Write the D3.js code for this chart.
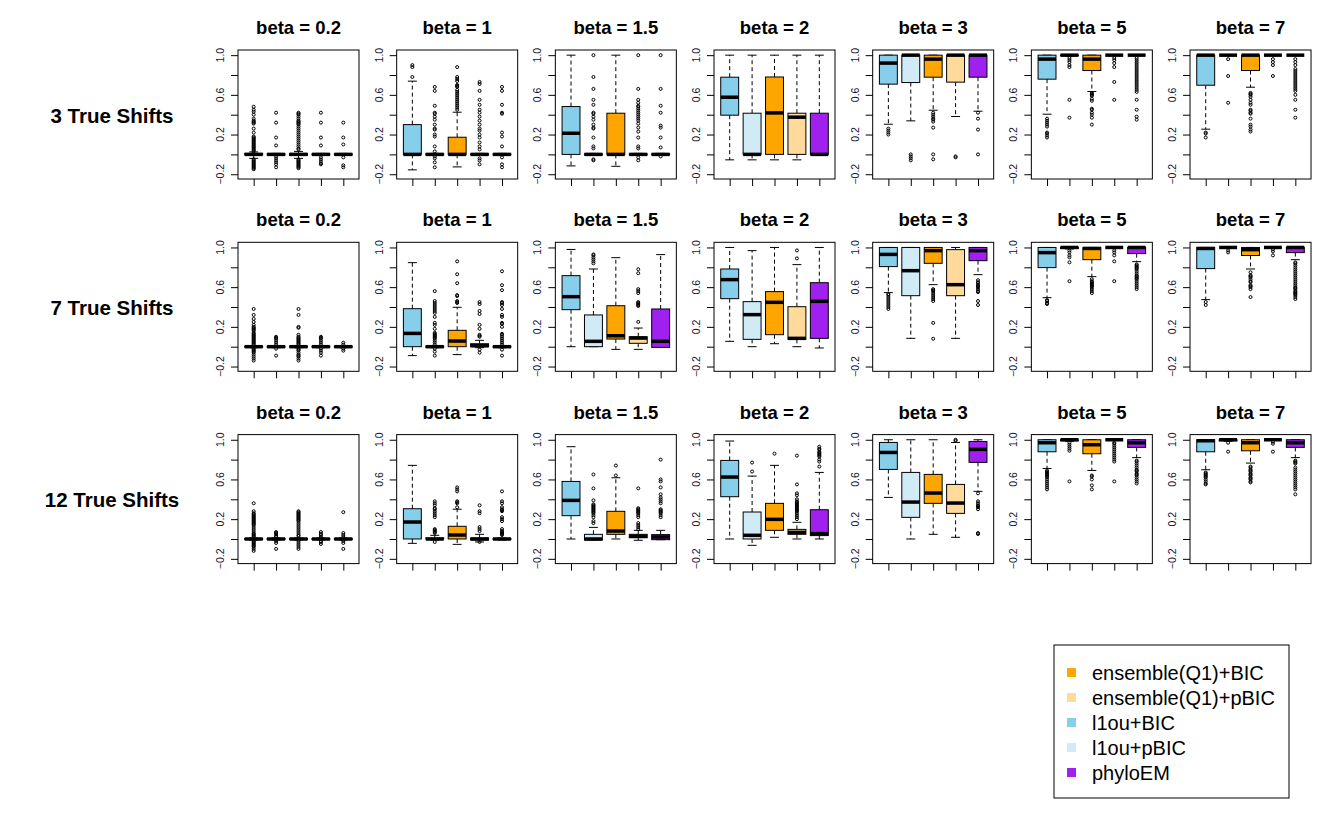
<!DOCTYPE html>
<html>
<head>
<meta charset="utf-8">
<script src="https://cdn.jsdelivr.net/npm/d3@7"></script>
<style>
  body { margin: 0; background: #fff; }
  text { font-family: "Liberation Sans", Arial, sans-serif; }
</style>
</head>
<body>
<svg id="chart"></svg>
<script>
// methods in the order the boxes appear in each panel
const methods = ['l1ou+BIC', 'l1ou+pBIC', 'ensemble(Q1)+BIC', 'ensemble(Q1)+pBIC', 'phyloEM'];
const colors = ['#87CEEB', '#D0EAF6', '#FFA500', '#FFDA9B', '#A020F0'];
const legendOrder = [2, 3, 0, 1, 4];
const betas = ['0.2', '1', '1.5', '2', '3', '5', '7'];
const shifts = ['3 True Shifts', '7 True Shifts', '12 True Shifts'];
const yTicks = [-0.2, 0, 0.2, 0.4, 0.6, 0.8, 1.0];
const yLabels = [-0.2, 0.2, 0.6, 1.0];

// box stats: [lower whisker, q1, median, q3, upper whisker]
const tiny = [-0.01, -0.005, 0, 0.005, 0.01];
const top1 = [0.995, 1, 1, 1, 1];

const stats3 = [
  [[-0.04, -0.005, 0, 0.01, 0.025], tiny, [-0.04, -0.01, 0, 0.01, 0.03], tiny, tiny],
  [[-0.156, 0, 0, 0.3, 0.738], tiny, [-0.126, 0, 0, 0.173, 0.425], tiny, tiny],
  [[-0.116, 0, 0.213, 0.482, 1.0], tiny, [-0.12, 0, 0, 0.415, 1.0], tiny, tiny],
  [[-0.055, 0.395, 0.576, 0.778, 1.0], [-0.055, 0, 0, 0.415, 1.0], [-0.055, 0, 0.418, 0.78, 1.0], [-0.055, 0, 0.375, 0.415, 1.0], [0, 0, 0, 0.415, 1.0]],
  [[0.304, 0.708, 0.92, 1, 1], [0.338, 0.724, 1, 1, 1], [0.445, 0.778, 0.96, 1, 1], [0.382, 0.728, 1, 1, 1], [0.435, 0.778, 1, 1, 1]],
  [[0.405, 0.758, 0.96, 1, 1], [0.99, 0.995, 1, 1, 1], [0.634, 0.845, 0.96, 1, 1], top1, top1],
  [[0.254, 0.697, 1, 1, 1], top1, [0.677, 0.845, 1, 1, 1], top1, top1]
];
const stats7 = [
  [tiny, tiny, tiny, tiny, tiny],
  [[-0.09, 0, 0.134, 0.383, 0.847], tiny, [-0.08, 0, 0.057, 0.165, 0.397], [-0.01, 0, 0.01, 0.03, 0.064], tiny],
  [[0, 0.373, 0.504, 0.716, 0.98], [0, 0, 0.054, 0.32, 0.783], [-0.027, 0.077, 0.11, 0.413, 0.897], [-0.027, 0.034, 0.087, 0.1, 0.188], [-0.007, -0.007, 0.054, 0.38, 0.928]],
  [[0.054, 0.484, 0.676, 0.783, 1.0], [0, 0.074, 0.323, 0.454, 0.968], [0.03, 0.121, 0.447, 0.555, 1.0], [0, 0.074, 0.084, 0.403, 0.827], [-0.013, 0.084, 0.457, 0.645, 1.0]],
  [[0.545, 0.807, 0.93, 1, 1], [0.084, 0.514, 0.766, 1, 1], [0.625, 0.84, 0.968, 1, 1], [0.084, 0.514, 0.625, 0.978, 1], [0.726, 0.867, 0.968, 1, 1]],
  [[0.494, 0.797, 0.948, 1, 1], [0.985, 0.99, 1, 1, 1], [0.706, 0.877, 0.99, 1, 1], top1, [0.857, 0.938, 1, 1, 1]],
  [[0.474, 0.787, 0.99, 1, 1], top1, [0.783, 0.919, 0.978, 1, 1], top1, [0.877, 0.948, 1, 1, 1]]
];
const stats12 = [
  [tiny, tiny, tiny, tiny, tiny],
  [[-0.044, 0, 0.171, 0.305, 0.742], [-0.01, 0, 0, 0.01, 0.037], [-0.054, 0, 0.04, 0.128, 0.3], [-0.03, -0.01, 0, 0.01, 0.047], tiny],
  [[0, 0.235, 0.389, 0.58, 0.93], [-0.01, -0.01, 0, 0.047, 0.117], [0, 0.047, 0.08, 0.279, 0.617], [-0.013, 0.013, 0.027, 0.047, 0.087], [-0.007, -0.007, 0.02, 0.044, 0.087]],
  [[0, 0.426, 0.624, 0.792, 0.987], [-0.064, 0, 0.037, 0.272, 0.634], [0.017, 0.087, 0.198, 0.359, 0.742], [0, 0.047, 0.067, 0.097, 0.168], [0, 0.034, 0.054, 0.295, 0.671]],
  [[0.419, 0.701, 0.872, 0.973, 1.0], [0, 0.218, 0.372, 0.671, 1.0], [0.047, 0.359, 0.463, 0.651, 1.0], [0.017, 0.258, 0.362, 0.55, 0.973], [0.48, 0.772, 0.903, 0.983, 1.0]],
  [[0.711, 0.879, 0.97, 1, 1], [0.985, 0.99, 1, 1, 1], [0.691, 0.859, 0.95, 1, 1], top1, [0.82, 0.923, 0.97, 1, 1]],
  [[0.698, 0.879, 0.99, 1, 1], [0.985, 0.99, 1, 1, 1], [0.765, 0.889, 0.97, 1, 1], top1, [0.82, 0.923, 0.97, 1, 1]]
];

// outliers per panel, per box
const out3 = [
  [[0.48, 0.45, 0.43, 0.4, 0.36, 0.34, 0.33, 0.32, 0.31, 0.26, 0.22, 0.18, 0.17, 0.16, 0.15, 0.14, 0.13, 0.12, 0.11, 0.1, 0.09, 0.08, 0.07, 0.06, 0.05, 0.04, 0.03, -0.05, -0.06, -0.07, -0.08, -0.09, -0.1, -0.11, -0.12, -0.13, -0.14, -0.15],
   [0.42, 0.32, 0.17, 0.09, -0.02, -0.04, -0.06, -0.08, -0.1, -0.13],
   [0.42, 0.41, 0.4, 0.38, 0.36, 0.34, 0.33, 0.32, 0.31, 0.3, 0.28, 0.26, 0.24, 0.22, 0.2, 0.18, 0.16, 0.14, 0.12, 0.1, 0.08, 0.06, 0.05, -0.05, -0.06, -0.07, -0.08, -0.09, -0.1, -0.11, -0.12, -0.13, -0.14],
   [0.42, 0.32, 0.17, 0.09, -0.03, -0.05, -0.07, -0.09, -0.1],
   [0.32, 0.17, 0.1, -0.03, -0.11, -0.13]],
  [[0.9, 0.88, 0.78],
   [0.68, 0.64, 0.49, 0.42, 0.41, 0.38, 0.35, 0.3, 0.26, 0.25, 0.2, 0.18, 0.08, 0.03, -0.02, -0.04, -0.08, -0.13],
   [0.88, 0.78, 0.76, 0.74, 0.7, 0.69, 0.68, 0.65, 0.63, 0.61, 0.59, 0.57, 0.55, 0.53, 0.51, 0.49, 0.47, 0.45],
   [0.73, 0.71, 0.64, 0.55, 0.5, 0.45, 0.42, 0.38, 0.34, 0.3, 0.26, 0.24, 0.2, 0.17, 0.12, 0.08, 0.05, -0.04, -0.06, -0.1],
   [0.68, 0.64, 0.5, 0.42, 0.41, 0.22, 0.18, 0.08, -0.03, -0.1, -0.13]],
  [[],
   [1.0, 0.78, 0.66, 0.55, 0.5, 0.42, 0.41, 0.38, 0.35, 0.3, 0.27, 0.26, 0.17, 0.08, 0.06, -0.05, -0.06],
   [],
   [1.0, 0.66, 0.55, 0.52, 0.49, 0.48, 0.46, 0.44, 0.42, 0.4, 0.38, 0.36, 0.34, 0.31, 0.27, 0.23, 0.17, 0.08, 0.06, -0.03, -0.06],
   [1.0, 0.66, 0.49, 0.42, 0.29, 0.27, 0.17, 0.07, -0.02]],
  [[], [], [], [], []],
  [[0.26, 0.24, 0.22, 0.2],
   [0, -0.02, -0.04, -0.06],
   [0.42, 0.4, 0.38, 0.36, 0.35, 0.33, 0.27, 0, -0.05],
   [-0.02, -0.03],
   [0.42, 0.36, 0.25, 0]],
  [[0.36, 0.34, 0.32, 0.3, 0.28, 0.22, 0.21, 0.19, 0.17],
   [0.97, 0.95, 0.93, 0.9, 0.88, 0.55, 0.37],
   [0.62, 0.61, 0.6, 0.59, 0.56, 0.54, 0.46, 0.45, 0.42, 0.4, 0.37, 0.3],
   [0.97, 0.95, 0.92, 0.88, 0.73, 0.55],
   [0.97, 0.95, 0.93, 0.91, 0.89, 0.87, 0.85, 0.83, 0.81, 0.79, 0.77, 0.75, 0.73, 0.71, 0.69, 0.67, 0.65, 0.63, 0.55, 0.45, 0.38, 0.35]],
  [[0.22, 0.21, 0.17],
   [0.96, 0.79, 0.52],
   [0.62, 0.61, 0.6, 0.58, 0.55, 0.52, 0.5, 0.45, 0.44, 0.42, 0.41, 0.36, 0.3, 0.28, 0.25, 0.23],
   [0.96, 0.93, 0.9, 0.79],
   [0.96, 0.93, 0.9, 0.86, 0.84, 0.82, 0.8, 0.78, 0.76, 0.74, 0.72, 0.7, 0.68, 0.66, 0.64, 0.6, 0.55, 0.45, 0.37]]
];
const out7 = [
  [[0.38, 0.32, 0.28, 0.25, 0.22, 0.2, 0.19, 0.18, 0.17, 0.16, 0.14, 0.13, 0.12, 0.11, 0.1, 0.09, 0.08, 0.07, 0.06, 0.05, 0.04, 0.03, 0.02, -0.02, -0.03, -0.04, -0.05, -0.06, -0.08, -0.1, -0.12, -0.14],
   [0.1, 0.09, 0.08, 0.06, 0.04, 0.02, -0.02, -0.09],
   [0.38, 0.32, 0.2, 0.19, 0.12, 0.1, 0.09, 0.08, 0.07, 0.06, 0.05, 0.04, 0.03, 0.02, -0.02, -0.03, -0.04, -0.06, -0.08, -0.09, -0.1, -0.12, -0.14],
   [0.1, 0.09, 0.08, 0.06, 0.04, 0.02, -0.02, -0.04, -0.06, -0.09],
   [0.04, 0.02, -0.02, -0.04]],
  [[],
   [0.56, 0.46, 0.44, 0.42, 0.4, 0.38, 0.36, 0.34, 0.3, 0.24, 0.22, 0.18, 0.14, 0.13, 0.12, 0.11, 0.1, 0.09, 0.08, 0.06, 0.04, 0.02, -0.02, -0.05, -0.09],
   [0.86, 0.73, 0.64, 0.52, 0.51, 0.46, 0.45, 0.44],
   [0.45, 0.43, 0.36, 0.33, 0.22, 0.18, 0.12, 0.11, 0.1, -0.03, -0.06],
   [0.76, 0.62, 0.57, 0.45, 0.44, 0.42, 0.38, 0.32, 0.3, 0.24, 0.23, 0.2, 0.13, 0.12, 0.1, 0.08, 0.06, 0.04, 0.02, -0.03, -0.09]],
  [[],
   [0.93, 0.92, 0.9, 0.88, 0.86, 0.84],
   [],
   [0.78, 0.74, 0.58, 0.56, 0.54, 0.45, 0.44, 0.43, 0.42, 0.41, 0.25],
   []],
  [[], [], [], [0.97, 0.89], []],
  [[0.53, 0.52, 0.5, 0.48, 0.46, 0.44, 0.42, 0.4, 0.38],
   [],
   [0.58, 0.57, 0.56, 0.54, 0.52, 0.5, 0.48, 0.46, 0.24, 0.08],
   [],
   [0.67, 0.65, 0.64, 0.62, 0.61, 0.6, 0.58, 0.56, 0.55, 0.46, 0.42]],
  [[0.47, 0.46, 0.44, 0.43],
   [0.97, 0.95, 0.92, 0.9, 0.85, 0.66],
   [0.68, 0.66, 0.65, 0.64, 0.63, 0.62, 0.61, 0.6, 0.58, 0.56, 0.54],
   [0.97, 0.95, 0.92, 0.86, 0.66],
   [0.83, 0.82, 0.81, 0.8, 0.79, 0.78, 0.76, 0.74, 0.72, 0.71, 0.7, 0.69, 0.68, 0.66, 0.64, 0.62, 0.6, 0.58]],
  [[0.45, 0.42],
   [0.97, 0.95],
   [0.75, 0.72, 0.71, 0.7, 0.68, 0.66, 0.65, 0.62, 0.61, 0.6, 0.58, 0.5],
   [0.98, 0.96, 0.92],
   [0.85, 0.84, 0.82, 0.8, 0.78, 0.76, 0.74, 0.72, 0.7, 0.68, 0.66, 0.64, 0.62, 0.6, 0.59, 0.58, 0.56, 0.55, 0.54, 0.53, 0.52, 0.5, 0.48]]
];
const out12 = [
  [[0.36, 0.28, 0.26, 0.25, 0.24, 0.23, 0.22, 0.21, 0.2, 0.19, 0.18, 0.17, 0.16, 0.15, 0.14, 0.12, 0.1, 0.08, 0.06, 0.05, 0.04, 0.03, 0.02, -0.02, -0.03, -0.04, -0.05, -0.06, -0.07, -0.08, -0.1, -0.12],
   [0.07, 0.06, 0.05, 0.03, 0.02, -0.02, -0.04, -0.1],
   [0.28, 0.27, 0.26, 0.25, 0.24, 0.23, 0.22, 0.21, 0.2, 0.19, 0.18, 0.16, 0.14, 0.12, 0.1, 0.08, 0.06, 0.04, 0.03, -0.02, -0.04, -0.06, -0.08, -0.1],
   [0.07, 0.05, 0.04, 0.02, -0.02, -0.03, -0.05],
   [0.27, 0.06, 0.04, 0.02, -0.02, -0.04, -0.1]],
  [[],
   [0.38, 0.36, 0.34, 0.31, 0.3, 0.28, 0.26, 0.24, 0.22, 0.1, 0.09, 0.08, 0.07, 0.06, -0.03],
   [0.52, 0.5, 0.48, 0.38, 0.37, 0.36, 0.32],
   [0.34, 0.28, 0.26, 0.12, 0.1, 0.08, -0.03],
   [0.48, 0.38, 0.36, 0.32, 0.3, 0.29, 0.28, 0.22, 0.2, 0.18, 0.1, 0.08, 0.07, 0.06, 0.05, 0.04]],
  [[],
   [0.65, 0.51, 0.39, 0.35, 0.34, 0.33, 0.32, 0.31, 0.3, 0.29, 0.28, 0.27, 0.26, 0.24, 0.22, 0.18, 0.16],
   [0.74, 0.64],
   [0.51, 0.31, 0.3, 0.29, 0.28, 0.27, 0.26, 0.24, 0.22, 0.16, 0.14, 0.12, 0.1],
   [0.8, 0.6, 0.58, 0.52, 0.45, 0.42, 0.4, 0.38, 0.36, 0.3, 0.29, 0.28, 0.27, 0.26, 0.24, 0.22]],
  [[],
   [0.77, 0.68],
   [0.86],
   [0.84, 0.55, 0.46, 0.44, 0.4, 0.38, 0.37, 0.36, 0.35, 0.34, 0.33, 0.32, 0.31, 0.3, 0.29, 0.28, 0.26, 0.24, 0.22, 0.2],
   [0.93, 0.91, 0.9, 0.88, 0.87, 0.86, 0.85, 0.84, 0.83, 0.8, 0.78, 0.73]],
  [[], [], [], [1.0, 0.99],
   [0.46, 0.38, 0.36, 0.34, 0.33, 0.32, 0.3, 0.06, 0.05]],
  [[0.69, 0.68, 0.67, 0.66, 0.65, 0.64, 0.63, 0.62, 0.6, 0.58, 0.56, 0.54, 0.52, 0.5],
   [0.97, 0.95, 0.93, 0.91, 0.89, 0.58],
   [0.64, 0.63, 0.6, 0.54, 0.5],
   [0.97, 0.96, 0.94, 0.92, 0.9, 0.88, 0.86, 0.84, 0.82, 0.8, 0.78, 0.58],
   [0.79, 0.78, 0.76, 0.74, 0.72, 0.7, 0.69, 0.68, 0.66, 0.65, 0.64, 0.62, 0.6, 0.58, 0.56]],
  [[0.67, 0.66, 0.65, 0.64, 0.63, 0.62, 0.6, 0.58, 0.56, 0.55],
   [0.97, 0.88],
   [0.73, 0.72, 0.7, 0.69, 0.68, 0.66, 0.65, 0.64, 0.62, 0.61, 0.6, 0.58, 0.57],
   [0.98, 0.96, 0.88],
   [0.79, 0.78, 0.77, 0.76, 0.72, 0.7, 0.68, 0.66, 0.64, 0.62, 0.6, 0.58, 0.56, 0.54, 0.52, 0.5, 0.45]]
];

const allStats = [stats3, stats7, stats12];
const allOut = [out3, out7, out12];

const W = 1324, H = 831;
const panelW = 121, panelH = 129;
const colStep = 158.67, rowStep = 192.3;
const left0 = 238, top0 = 50;

const svg = d3.select('#chart')
  .attr('width', W)
  .attr('height', H);

const x = d3.scaleLinear().domain([0.3, 5.7]).range([0, panelW]);
const y = d3.scaleLinear().domain([-0.248, 1.052]).range([panelH, 0]);
const bw = x(1.4) - x(1);   // half box width (0.4 units)
const cw = bw / 2;          // half staple width

shifts.forEach((label, r) => {
  const rowTop = top0 + r * rowStep;

  svg.append('text')
    .attr('x', 112)
    .attr('y', rowTop + panelH / 2 + 8)
    .attr('text-anchor', 'middle')
    .style('font-weight', 'bold')
    .style('font-size', '20.5px')
    .text(label);

  betas.forEach((beta, c) => {
    const g = svg.append('g')
      .attr('transform', `translate(${left0 + c * colStep}, ${rowTop})`);

    g.append('text')
      .attr('x', panelW / 2)
      .attr('y', -16)
      .attr('text-anchor', 'middle')
      .style('font-weight', 'bold')
      .style('font-size', '18.5px')
      .text(`beta = ${beta}`);

    // y axis
    const yAxis = g.append('g')
      .call(d3.axisLeft(y).tickValues(yTicks).tickSize(7).tickFormat(''));
    yAxis.select('.domain').remove();
    yAxis.selectAll('line').attr('stroke', '#000');

    g.selectAll('.ylab')
      .data(yLabels)
      .enter()
      .append('text')
      .attr('transform', d => `translate(-14, ${y(d)}) rotate(-90)`)
      .attr('text-anchor', 'middle')
      .style('font-size', '10.5px')
      .style('fill', '#111133')
      .text(d => d3.format('.1f')(d));

    // x axis ticks
    const xAxis = g.append('g')
      .attr('transform', `translate(0, ${panelH})`)
      .call(d3.axisBottom(x).tickValues([1, 2, 3, 4, 5]).tickSize(7).tickFormat(''));
    xAxis.select('.domain').remove();
    xAxis.selectAll('line').attr('stroke', '#000');

    const stats = allStats[r][c];
    const outs = allOut[r][c];

    stats.forEach((s, i) => {
      const cx = x(i + 1);
      const [lo, q1, med, q3, hi] = s;
      const bg = g.append('g');

      bg.append('line')
        .attr('x1', cx).attr('x2', cx)
        .attr('y1', y(q3)).attr('y2', y(hi))
        .attr('stroke', '#000').attr('stroke-dasharray', '4,3');
      bg.append('line')
        .attr('x1', cx).attr('x2', cx)
        .attr('y1', y(q1)).attr('y2', y(lo))
        .attr('stroke', '#000').attr('stroke-dasharray', '4,3');
      [lo, hi].forEach(v => {
        bg.append('line')
          .attr('x1', cx - cw).attr('x2', cx + cw)
          .attr('y1', y(v)).attr('y2', y(v))
          .attr('stroke', '#000');
      });

      bg.append('rect')
        .attr('x', cx - bw)
        .attr('y', y(q3))
        .attr('width', bw * 2)
        .attr('height', Math.max(0, y(q1) - y(q3)))
        .attr('fill', colors[i])
        .attr('stroke', '#000')
        .attr('stroke-width', 1);

      bg.append('line')
        .attr('x1', cx - bw).attr('x2', cx + bw)
        .attr('y1', y(med)).attr('y2', y(med))
        .attr('stroke', '#000')
        .attr('stroke-width', 3.5);

      bg.selectAll('circle')
        .data(outs[i])
        .enter()
        .append('circle')
        .attr('cx', cx)
        .attr('cy', d => y(d))
        .attr('r', 1.5)
        .attr('fill', 'none')
        .attr('stroke', '#000')
        .attr('stroke-width', 1);
    });

    g.append('rect')
      .attr('width', panelW)
      .attr('height', panelH)
      .attr('fill', 'none')
      .attr('stroke', '#000')
      .attr('stroke-width', 1);
  });
});

// legend
const legend = svg.append('g').attr('transform', 'translate(1054, 645)');
legend.append('rect')
  .attr('width', 235)
  .attr('height', 153)
  .attr('fill', '#fff')
  .attr('stroke', '#000');

legendOrder.forEach((m, k) => {
  const ly = 28 + k * 25;
  legend.append('rect')
    .attr('x', 13)
    .attr('y', ly - 5)
    .attr('width', 9)
    .attr('height', 9)
    .attr('fill', colors[m]);
  legend.append('text')
    .attr('x', 38)
    .attr('y', ly + 7)
    .style('font-size', '20px')
    .text(methods[m]);
});
</script>
</body>
</html>
